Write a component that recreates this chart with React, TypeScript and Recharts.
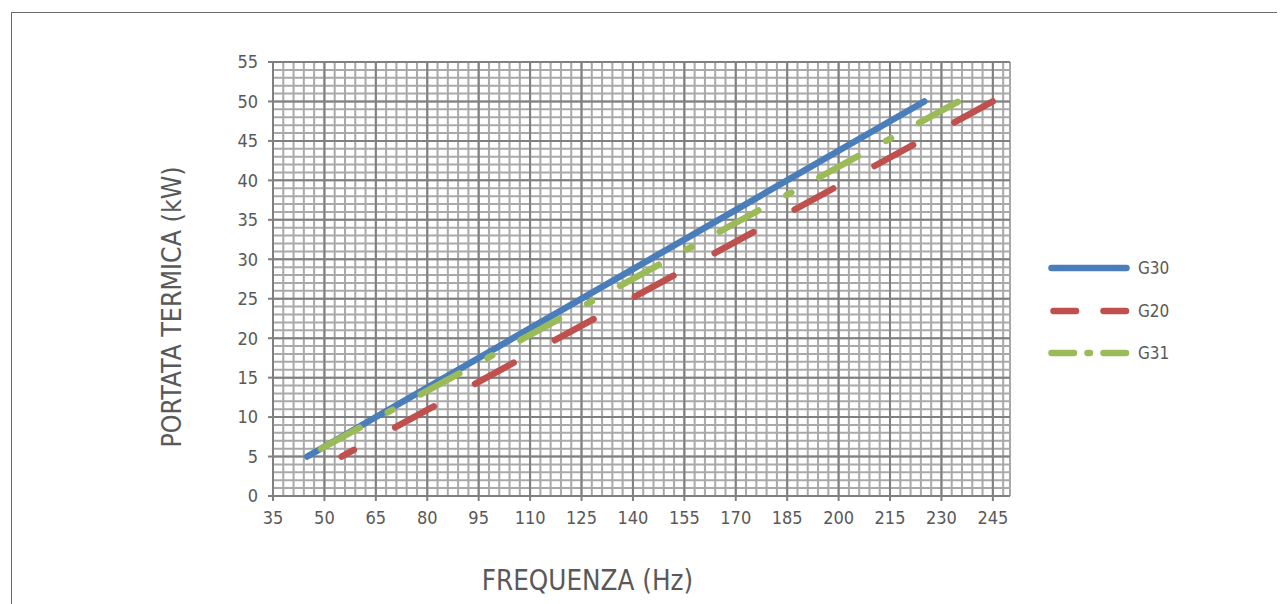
import { LineChart, Line, XAxis, YAxis, ReferenceLine, Label } from "recharts";

// Thermal input vs. fan frequency, one line per gas family
const g30 = [
  { hz: 45, kw: 5 },
  { hz: 225, kw: 50 },
];
const g20 = [
  { hz: 55, kw: 5 },
  { hz: 245, kw: 50 },
];
const g31 = [
  { hz: 49, kw: 6 },
  { hz: 235, kw: 50 },
];

const xTicks = [35, 50, 65, 80, 95, 110, 125, 140, 155, 170, 185, 200, 215, 230, 245];
const yTicks = [0, 5, 10, 15, 20, 25, 30, 35, 40, 45, 50, 55];

// fine graph-paper grid: every 3 Hz and every 1 kW
const xMinor: number[] = [];
for (let v = 35; v <= 250; v += 3) xMinor.push(v);
xMinor.push(250);
const yMinor: number[] = [];
for (let v = 0; v <= 55; v += 1) yMinor.push(v);

const BLUE = "#4a7ebb";
const RED = "#c0504d";
const GREEN = "#9bbb59";
const TEXT = "#595959";
const MINOR = "#a9a9a9";
const MAJOR = "#808080";
const FONT = "'DejaVu Sans Condensed', 'DejaVu Sans', sans-serif";

const legendItems = [
  { name: "G30", color: BLUE, dash: undefined as string | undefined, x1: 3.5 },
  { name: "G20", color: RED, dash: "22.5 27.5", x1: 5.5 },
  { name: "G31", color: GREEN, dash: "22.5 13.5 2.5 13.5", x1: 3.5 },
];

function ChartLegend() {
  return (
    <div style={{ position: "absolute", left: 1040, top: 239, fontFamily: FONT }}>
      {legendItems.map((item) => (
        <div
          key={item.name}
          style={{ display: "flex", alignItems: "center", height: 42.5 }}
        >
          <svg width={88} height={12}>
            <line
              x1={item.x1}
              x2={78.5}
              y1={6}
              y2={6}
              stroke={item.color}
              strokeWidth={6.5}
              strokeLinecap="round"
              strokeDasharray={item.dash}
            />
          </svg>
          <span style={{ fontSize: 17, color: TEXT, marginLeft: 2 }}>{item.name}</span>
        </div>
      ))}
    </div>
  );
}

export default function App() {
  return (
    <div
      style={{
        position: "relative",
        width: 1277,
        height: 596,
        overflow: "hidden",
        fontFamily: FONT,
      }}
    >
      <div
        style={{
          position: "absolute",
          left: 3,
          top: 4,
          width: 1400,
          height: 700,
          borderLeft: "1px solid #6b6b6b",
          borderTop: "1px solid #6b6b6b",
        }}
      />
      <div style={{ position: "absolute", left: 0, top: 0 }}>
        <LineChart
          width={1277}
          height={700}
          margin={{ top: 54, right: 275, bottom: 44, left: 63 }}
        >
          {xMinor.map((v) => (
            <ReferenceLine key={`xm${v}`} x={v} stroke={MINOR} strokeWidth={2} />
          ))}
          {yMinor.map((v) => (
            <ReferenceLine key={`ym${v}`} y={v} stroke={MINOR} strokeWidth={2} />
          ))}
          {xTicks.map((v) => (
            <ReferenceLine key={`xM${v}`} x={v} stroke={MAJOR} strokeWidth={2} />
          ))}
          {yTicks.map((v) => (
            <ReferenceLine key={`yM${v}`} y={v} stroke={MAJOR} strokeWidth={2} />
          ))}
          <XAxis
            type="number"
            dataKey="hz"
            domain={[35, 250]}
            ticks={xTicks}
            allowDataOverflow
            height={168}
            tickSize={5}
            tickMargin={10}
            axisLine={{ stroke: MAJOR, strokeWidth: 2 }}
            tickLine={{ stroke: MAJOR, strokeWidth: 2 }}
            tick={{ fill: TEXT, fontSize: 18, fontFamily: FONT }}
          >
            <Label
              value="FREQUENZA (Hz)"
              position="center"
              dx={-54}
              fill={TEXT}
              fontSize={27.5}
              fontFamily={FONT}
            />
          </XAxis>
          <YAxis
            type="number"
            dataKey="kw"
            domain={[0, 55]}
            ticks={yTicks}
            allowDataOverflow
            width={202}
            tickSize={5}
            tickMargin={10}
            axisLine={{ stroke: MAJOR, strokeWidth: 2 }}
            tickLine={{ stroke: MAJOR, strokeWidth: 2 }}
            tick={{ fill: TEXT, fontSize: 18, fontFamily: FONT }}
          >
            <Label
              value="PORTATA TERMICA (kW)"
              position="center"
              angle={-90}
              dy={28}
              fill={TEXT}
              fontSize={26.5}
              fontFamily={FONT}
            />
          </YAxis>
          <Line
            data={g30}
            dataKey="kw"
            name="G30"
            stroke={BLUE}
            strokeWidth={6.5}
            strokeLinecap="round"
            dot={false}
            activeDot={false}
            isAnimationActive={false}
          />
          <Line
            data={g20}
            dataKey="kw"
            name="G20"
            stroke={RED}
            strokeWidth={6.5}
            strokeLinecap="round"
            strokeDasharray="44 47"
            strokeDashoffset={30}
            dot={false}
            activeDot={false}
            isAnimationActive={false}
          />
          <Line
            data={g31}
            dataKey="kw"
            name="G31"
            stroke={GREEN}
            strokeWidth={6.5}
            strokeLinecap="round"
            strokeDasharray="44 32 5.5 32"
            dot={false}
            activeDot={false}
            isAnimationActive={false}
          />
        </LineChart>
      </div>
      <ChartLegend />
    </div>
  );
}
